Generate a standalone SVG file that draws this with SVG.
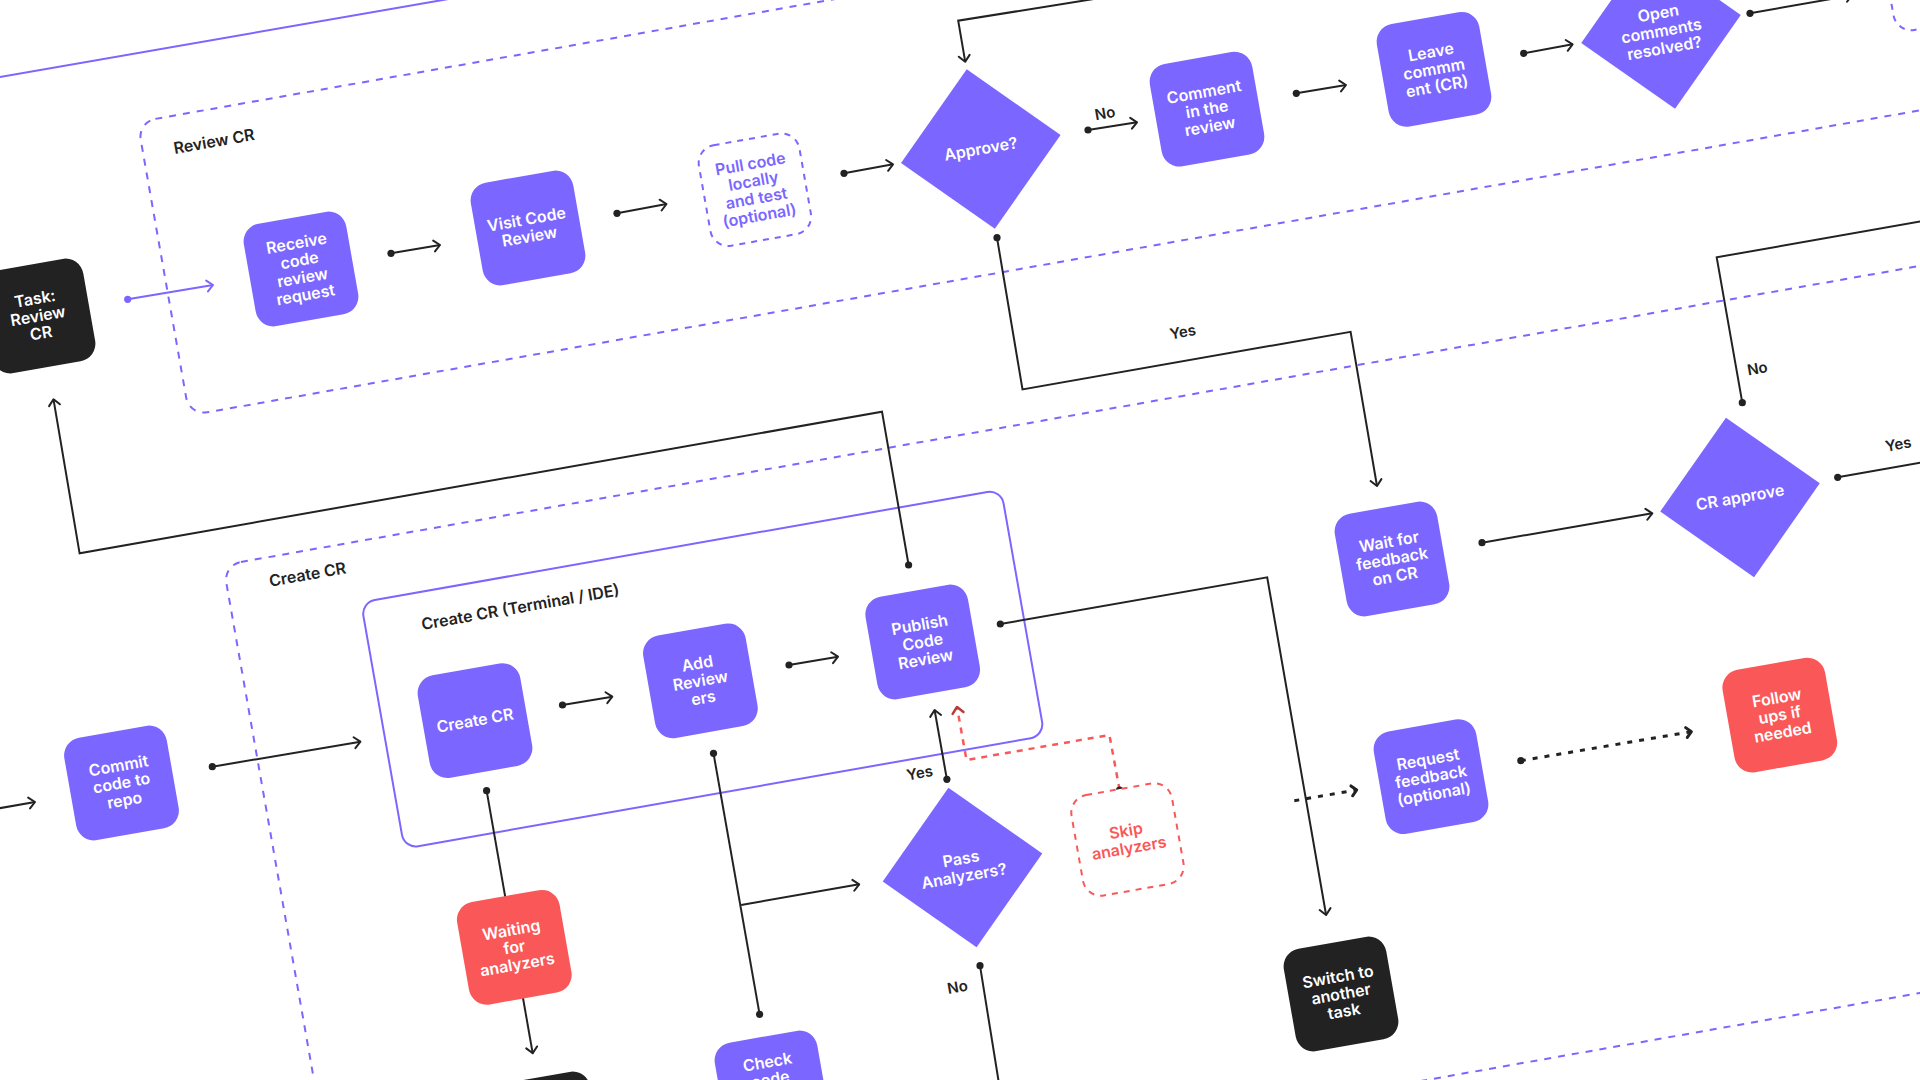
<svg xmlns="http://www.w3.org/2000/svg" width="1920" height="1080" viewBox="0 0 1920 1080">
<style>
.pu{fill:#7B66FF}
.rd{fill:#FA5858}
.bk{fill:#222222}
.dpu{fill:#ffffff;stroke:#7B66FF;stroke-width:2;stroke-dasharray:6 6}
.drd{fill:#ffffff;stroke:#FA5858;stroke-width:2;stroke-dasharray:6 6}
.t{font-family:Inter,"Noto Sans",sans-serif;font-size:16px;font-weight:600;text-anchor:middle;fill:#ffffff}
.tp{fill:#7B66FF}
.tr{fill:#FA5858}
.lbl{font-family:Inter,"Noto Sans",sans-serif;font-size:16px;font-weight:600;fill:#222222}
.cl{font-family:Inter,"Noto Sans",sans-serif;font-size:15px;font-weight:600;fill:#222222;text-anchor:middle}
.grp{fill:none;stroke:#7B66FF;stroke-width:2;stroke-dasharray:7 7}
.c{fill:none;stroke:#222222;stroke-width:2}
.cp{fill:none;stroke:#7B66FF;stroke-width:2}
.cd{fill:none;stroke:#222222;stroke-width:3;stroke-dasharray:5 7}
.cr{fill:none;stroke:#FA5858;stroke-width:2.5;stroke-dasharray:6 6}
</style>
<defs>
<marker id="dot" viewBox="-5 -5 10 10" markerWidth="10" markerHeight="10" markerUnits="userSpaceOnUse"><circle r="3.6" fill="#222222"/></marker>
<marker id="pdot" viewBox="-5 -5 10 10" markerWidth="10" markerHeight="10" markerUnits="userSpaceOnUse"><circle r="3.6" fill="#7B66FF"/></marker>
<marker id="arr" viewBox="-12 -8 14 16" markerWidth="14" markerHeight="16" orient="auto" markerUnits="userSpaceOnUse"><path d="M-6,-5.5 L0,0 L-6,5.5" fill="none" stroke="#222222" stroke-width="2" stroke-linecap="round" stroke-linejoin="round"/></marker>
<marker id="parr" viewBox="-12 -8 14 16" markerWidth="14" markerHeight="16" orient="auto" markerUnits="userSpaceOnUse"><path d="M-6,-5.5 L0,0 L-6,5.5" fill="none" stroke="#7B66FF" stroke-width="2" stroke-linecap="round" stroke-linejoin="round"/></marker>
<marker id="rarr" viewBox="-12 -8 14 16" markerWidth="14" markerHeight="16" orient="auto" markerUnits="userSpaceOnUse"><path d="M-6,-5.5 L0,0 L-6,5.5" fill="none" stroke="#B83A3A" stroke-width="2.5" stroke-linecap="round" stroke-linejoin="round"/></marker>
<marker id="barr" viewBox="-12 -8 14 16" markerWidth="14" markerHeight="16" orient="auto" markerUnits="userSpaceOnUse"><path d="M-5,-5 L0,0 L-5,5" fill="none" stroke="#222222" stroke-width="3" stroke-linecap="round" stroke-linejoin="round"/></marker>
</defs>
<rect x="0" y="0" width="1920" height="1080" fill="#ffffff"/>

<g id="groups">
  <path class="cp" d="M-10,78.7 L460,-3"/>
  <g id="g-review-cr" transform="translate(137.6,122) rotate(-10)">
    <rect class="grp" x="0" y="0" width="2300" height="298" rx="18"/>
  </g>
  <text class="lbl" transform="translate(174.7,154) rotate(-10)">Review CR</text>
  <g id="g-create-cr" transform="translate(223.2,565.1) rotate(-10)">
    <rect class="grp" x="0" y="0" width="2300" height="716" rx="18"/>
  </g>
  <text class="lbl" transform="translate(270.2,586.7) rotate(-10)">Create CR</text>
  <g id="g-terminal" transform="translate(361,602.4) rotate(-10)">
    <rect x="0" y="0" width="650" height="250" rx="14" fill="none" stroke="#7B66FF" stroke-width="2"/>
  </g>
  <text class="lbl" transform="translate(422.5,630) rotate(-10)">Create CR (Terminal / IDE)</text>
</g>

<g id="connectors">
  <path class="cp" d="M127.7,299.3 L213,285" marker-start="url(#pdot)" marker-end="url(#parr)"/>
  <path class="c" d="M391,253.3 L440,245" marker-start="url(#dot)" marker-end="url(#arr)"/>
  <path class="c" d="M617,213.3 L666.5,204" marker-start="url(#dot)" marker-end="url(#arr)"/>
  <path class="c" d="M844,173.3 L893,164.3" marker-start="url(#dot)" marker-end="url(#arr)"/>
  <path class="c" d="M1088,130 L1137,122.3" marker-start="url(#dot)" marker-end="url(#arr)"/>
  <path class="c" d="M1296.3,93.3 L1346,85" marker-start="url(#dot)" marker-end="url(#arr)"/>
  <path class="c" d="M1523.7,53.3 L1572.6,44.3" marker-start="url(#dot)" marker-end="url(#arr)"/>
  <path class="c" d="M1750,13.3 L1852,-4.7" marker-start="url(#dot)" marker-end="url(#arr)"/>
  <path class="c" d="M1100,-2 L958.2,20.7 L965.2,61.7" marker-end="url(#arr)"/>
  <path class="c" d="M997,237.7 L1022.5,389.4 L1350.6,331.8 L1377,486" marker-start="url(#dot)" marker-end="url(#arr)"/>
  <path class="c" d="M1482,542.7 L1652.3,513.3" marker-start="url(#dot)" marker-end="url(#arr)"/>
  <path class="c" d="M1742.3,402.7 L1716.7,257.3 L1930,219.7" marker-start="url(#dot)"/>
  <path class="c" d="M1837.7,477.3 L1930,461" marker-start="url(#dot)"/>
  <path class="c" d="M908.6,565 L882,411.7 L79.6,553.3 L53.5,399.3" marker-start="url(#dot)" marker-end="url(#arr)"/>
  <path class="c" d="M1000.3,624 L1267.2,577.3 L1326.1,915" marker-start="url(#dot)" marker-end="url(#arr)"/>
  <path class="cd" d="M1294.3,800.7 L1356.7,790" marker-end="url(#barr)"/>
  <path class="cd" d="M1520.8,760.7 L1691.4,731.7" marker-start="url(#dot)" marker-end="url(#barr)"/>
  <path class="c" d="M212.3,766.7 L360.4,741.7" marker-start="url(#dot)" marker-end="url(#arr)"/>
  <path class="c" d="M562.5,705 L612.3,696.7" marker-start="url(#dot)" marker-end="url(#arr)"/>
  <path class="c" d="M789,665 L838,656.7" marker-start="url(#dot)" marker-end="url(#arr)"/>
  <path class="c" d="M486.6,790.7 L532.7,1053.3" marker-start="url(#dot)" marker-end="url(#arr)"/>
  <path class="c" d="M713.5,753.3 L759.6,1014.3" marker-start="url(#dot)" marker-end="url(#dot)"/>
  <path class="c" d="M741.2,905 L859.2,884.3" marker-end="url(#arr)"/>
  <path class="c" d="M946.9,779.3 L934.6,710" marker-start="url(#dot)" marker-end="url(#arr)"/>
  <path class="cr" d="M1119.6,790 L1109.4,735 L966.5,760 L957,707" marker-start="url(#dot)" marker-end="url(#rarr)"/>
  <path class="c" d="M980,965.7 L999.2,1085" marker-start="url(#dot)"/>
  <path class="c" d="M-5,809 L35,802" marker-end="url(#arr)"/>
  <text class="cl" transform="translate(1105,113) rotate(-10)" y="5.5">No</text>
  <text class="cl" transform="translate(1182.8,331.7) rotate(-10)" y="5.5">Yes</text>
  <text class="cl" transform="translate(1757.3,368.3) rotate(-10)" y="5.5">No</text>
  <text class="cl" transform="translate(1898.3,444) rotate(-10)" y="5.5">Yes</text>
  <text class="cl" transform="translate(919.6,772.7) rotate(-10)" y="5.5">Yes</text>
  <text class="cl" transform="translate(957.5,986.7) rotate(-10)" y="5.5">No</text>
</g>

<g id="nodes">
  <g id="n-task-review" transform="translate(38,316) rotate(-10)">
    <rect class="bk" x="-52" y="-52" width="104" height="104" rx="18"/>
    <text class="t"><tspan x="0" y="-12">Task:</tspan><tspan x="0" y="5.5">Review</tspan><tspan x="0" y="23">CR</tspan></text>
  </g>
  <g id="n-receive" transform="translate(301,269) rotate(-10)">
    <rect class="pu" x="-52" y="-52" width="104" height="104" rx="18"/>
    <text class="t"><tspan x="0" y="-20.75">Receive</tspan><tspan x="0" y="-3.25">code</tspan><tspan x="0" y="14.25">review</tspan><tspan x="0" y="31.75">request</tspan></text>
  </g>
  <g id="n-visit" transform="translate(528,228) rotate(-10)">
    <rect class="pu" x="-52" y="-52" width="104" height="104" rx="18"/>
    <text class="t"><tspan x="0" y="-3.25">Visit Code</tspan><tspan x="0" y="14.25">Review</tspan></text>
  </g>
  <g id="n-pull" transform="translate(754.9,189.7) rotate(-10)">
    <rect class="dpu" x="-51" y="-51" width="102" height="102" rx="18"/>
    <text class="t tp"><tspan x="0" y="-20.75">Pull code</tspan><tspan x="0" y="-3.25">locally</tspan><tspan x="0" y="14.25">and test</tspan><tspan x="0" y="31.75">(optional)</tspan></text>
  </g>
  <g id="n-approve" transform="translate(980.8,149) rotate(-10)">
    <polygon class="pu" points="0,-81 81,0 0,81 -81,0"/>
    <text class="t" y="5.5">Approve?</text>
  </g>
  <g id="n-comment" transform="translate(1207,109.2) rotate(-10)">
    <rect class="pu" x="-52" y="-52" width="104" height="104" rx="18"/>
    <text class="t"><tspan x="0" y="-12">Comment</tspan><tspan x="0" y="5.5">in the</tspan><tspan x="0" y="23">review</tspan></text>
  </g>
  <g id="n-leave" transform="translate(1434,69.3) rotate(-10)">
    <rect class="pu" x="-52" y="-52" width="104" height="104" rx="18"/>
    <text class="t"><tspan x="0" y="-12">Leave</tspan><tspan x="0" y="5.5">commm</tspan><tspan x="0" y="23">ent (CR)</tspan></text>
  </g>
  <g id="n-open-comments" transform="translate(1661,29) rotate(-10)">
    <polygon class="pu" points="0,-81 81,0 0,81 -81,0"/>
    <text class="t"><tspan x="0" y="-10.5">Open</tspan><tspan x="0" y="7.5">comments</tspan><tspan x="0" y="25">resolved?</tspan></text>
  </g>
  <g id="n-offscreen" transform="translate(1938,-26) rotate(-10)">
    <rect class="dpu" x="-51" y="-51" width="102" height="102" rx="18"/>
  </g>
  <g id="n-wait" transform="translate(1392,559) rotate(-10)">
    <rect class="pu" x="-52" y="-52" width="104" height="104" rx="18"/>
    <text class="t"><tspan x="0" y="-12">Wait for</tspan><tspan x="0" y="5.5">feedback</tspan><tspan x="0" y="23">on CR</tspan></text>
  </g>
  <g id="n-cr-approve" transform="translate(1740,497.4) rotate(-10)">
    <polygon class="pu" points="0,-81 81,0 0,81 -81,0"/>
    <text class="t" y="5.5">CR approve</text>
  </g>
  <g id="n-follow" transform="translate(1779.8,715.1) rotate(-10)">
    <rect class="rd" x="-52" y="-52" width="104" height="104" rx="18"/>
    <text class="t"><tspan x="0" y="-12">Follow</tspan><tspan x="0" y="5.5">ups if</tspan><tspan x="0" y="23">needed</tspan></text>
  </g>
  <g id="n-request" transform="translate(1431,776.7) rotate(-10)">
    <rect class="pu" x="-52" y="-52" width="104" height="104" rx="18"/>
    <text class="t"><tspan x="0" y="-12">Request</tspan><tspan x="0" y="5.5">feedback</tspan><tspan x="0" y="23">(optional)</tspan></text>
  </g>
  <g id="n-switch" transform="translate(1341,994) rotate(-10)">
    <rect class="bk" x="-52" y="-52" width="104" height="104" rx="18"/>
    <text class="t"><tspan x="0" y="-12">Switch to</tspan><tspan x="0" y="5.5">another</tspan><tspan x="0" y="23">task</tspan></text>
  </g>
  <g id="n-commit" transform="translate(121.5,783) rotate(-10)">
    <rect class="pu" x="-52" y="-52" width="104" height="104" rx="18"/>
    <text class="t"><tspan x="0" y="-12">Commit</tspan><tspan x="0" y="5.5">code to</tspan><tspan x="0" y="23">repo</tspan></text>
  </g>
  <g id="n-create" transform="translate(475,720.6) rotate(-10)">
    <rect class="pu" x="-52" y="-52" width="104" height="104" rx="18"/>
    <text class="t" y="5.5">Create CR</text>
  </g>
  <g id="n-add" transform="translate(700.4,680.8) rotate(-10)">
    <rect class="pu" x="-52" y="-52" width="104" height="104" rx="18"/>
    <text class="t"><tspan x="0" y="-12">Add</tspan><tspan x="0" y="5.5">Review</tspan><tspan x="0" y="23">ers</tspan></text>
  </g>
  <g id="n-publish" transform="translate(922.7,642) rotate(-10)">
    <rect class="pu" x="-52" y="-52" width="104" height="104" rx="18"/>
    <text class="t"><tspan x="0" y="-12">Publish</tspan><tspan x="0" y="5.5">Code</tspan><tspan x="0" y="23">Review</tspan></text>
  </g>
  <g id="n-pass" transform="translate(962.5,867.5) rotate(-10)">
    <polygon class="pu" points="0,-81 81,0 0,81 -81,0"/>
    <text class="t"><tspan x="0" y="-3.25">Pass</tspan><tspan x="0" y="14.25">Analyzers?</tspan></text>
  </g>
  <g id="n-skip" transform="translate(1127.5,839.5) rotate(-10)">
    <rect class="drd" x="-51" y="-51" width="102" height="102" rx="18"/>
    <text class="t tr"><tspan x="0" y="-3.25">Skip</tspan><tspan x="0" y="14.25">analyzers</tspan></text>
  </g>
  <g id="n-waiting" transform="translate(514.3,947.3) rotate(-10)">
    <rect class="rd" x="-52" y="-52" width="104" height="104" rx="18"/>
    <text class="t"><tspan x="0" y="-12">Waiting</tspan><tspan x="0" y="5.5">for</tspan><tspan x="0" y="23">analyzers</tspan></text>
  </g>
  <g id="n-black-bottom" transform="translate(545,1129) rotate(-10)">
    <rect class="bk" x="-52" y="-52" width="104" height="104" rx="18"/>
  </g>
  <g id="n-check" transform="translate(772,1088) rotate(-10)">
    <rect class="pu" x="-52" y="-52" width="104" height="104" rx="18"/>
    <text class="t"><tspan x="0" y="-20.75">Check</tspan><tspan x="0" y="-3.25">code</tspan></text>
  </g>
</g>
</svg>
